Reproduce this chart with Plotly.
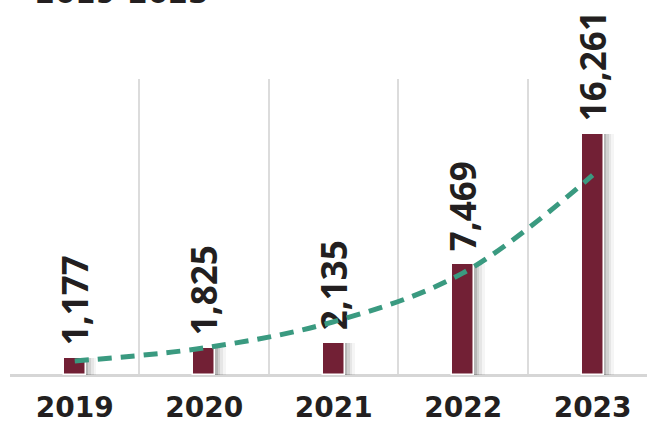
import plotly.graph_objects as go

years = ["2019", "2020", "2021", "2022", "2023"]
values = [1177, 1825, 2135, 7469, 16261]
trend_values = [950, 1830, 3600, 6900, 13500]
title_text = "2019-2023"

BAR_COLOR = "#722035"
LINE_COLOR = "#3a9a80"
TEXT_COLOR = "#231f20"

fig = go.Figure()

# soft shadow to the right of each bar
for off, alpha in [(0.08, 0.04), (0.06, 0.06), (0.04, 0.09), (0.02, 0.13)]:
    fig.add_trace(go.Bar(
        x=years, y=values, width=0.17, offset=-0.085 + off,
        marker=dict(color=f"rgba(0,0,0,{alpha})", line=dict(width=0)),
        hoverinfo="skip", showlegend=False,
    ))

fig.add_trace(go.Bar(
    x=years, y=values, width=0.17, offset=-0.085,
    marker=dict(color=BAR_COLOR, line=dict(color="white", width=1.5)),
    texttemplate="\u00a0%{y:,}", textposition="outside", textangle=-90,
    constraintext="none", cliponaxis=False,
    outsidetextfont=dict(family="Open Sans", size=35, color=TEXT_COLOR, weight="bold"),
    showlegend=False,
))

fig.add_trace(go.Scatter(
    x=years, y=trend_values, mode="lines",
    line=dict(color=LINE_COLOR, width=5, dash="14px,9px", shape="spline"),
    showlegend=False, cliponaxis=False,
))

fig.add_annotation(
    text=title_text, xref="paper", yref="paper", x=0.036, y=1.228,
    xanchor="left", yanchor="bottom", showarrow=False,
    font=dict(family="DejaVu Sans", size=29, color=TEXT_COLOR, weight="bold"),
)

fig.update_layout(
    width=647, height=424,
    margin=dict(l=10, r=0, t=79, b=49, autoexpand=False),
    paper_bgcolor="white", plot_bgcolor="white",
    barmode="overlay", bargap=0,
    xaxis=dict(
        type="category", range=[-0.5, 4.42], automargin=False,
        tickson="boundaries", showgrid=True, gridcolor="#dcdcdc", gridwidth=1.5,
        ticks="", showline=False, zeroline=False,
        tickfont=dict(family="DejaVu Sans", size=28, color=TEXT_COLOR, weight="bold"),
        ticklabelstandoff=13,
    ),
    yaxis=dict(
        range=[0, 20000], showgrid=False, showticklabels=False, automargin=False,
        zeroline=True, zerolinecolor="#d6d6d6", zerolinewidth=2.5,
        showline=False, ticks="",
    ),
)

fig.write_html(
    "out.html",
    config={"displayModeBar": False},
    post_script="document.body.style.margin='0';document.body.style.overflow='hidden';",
)
